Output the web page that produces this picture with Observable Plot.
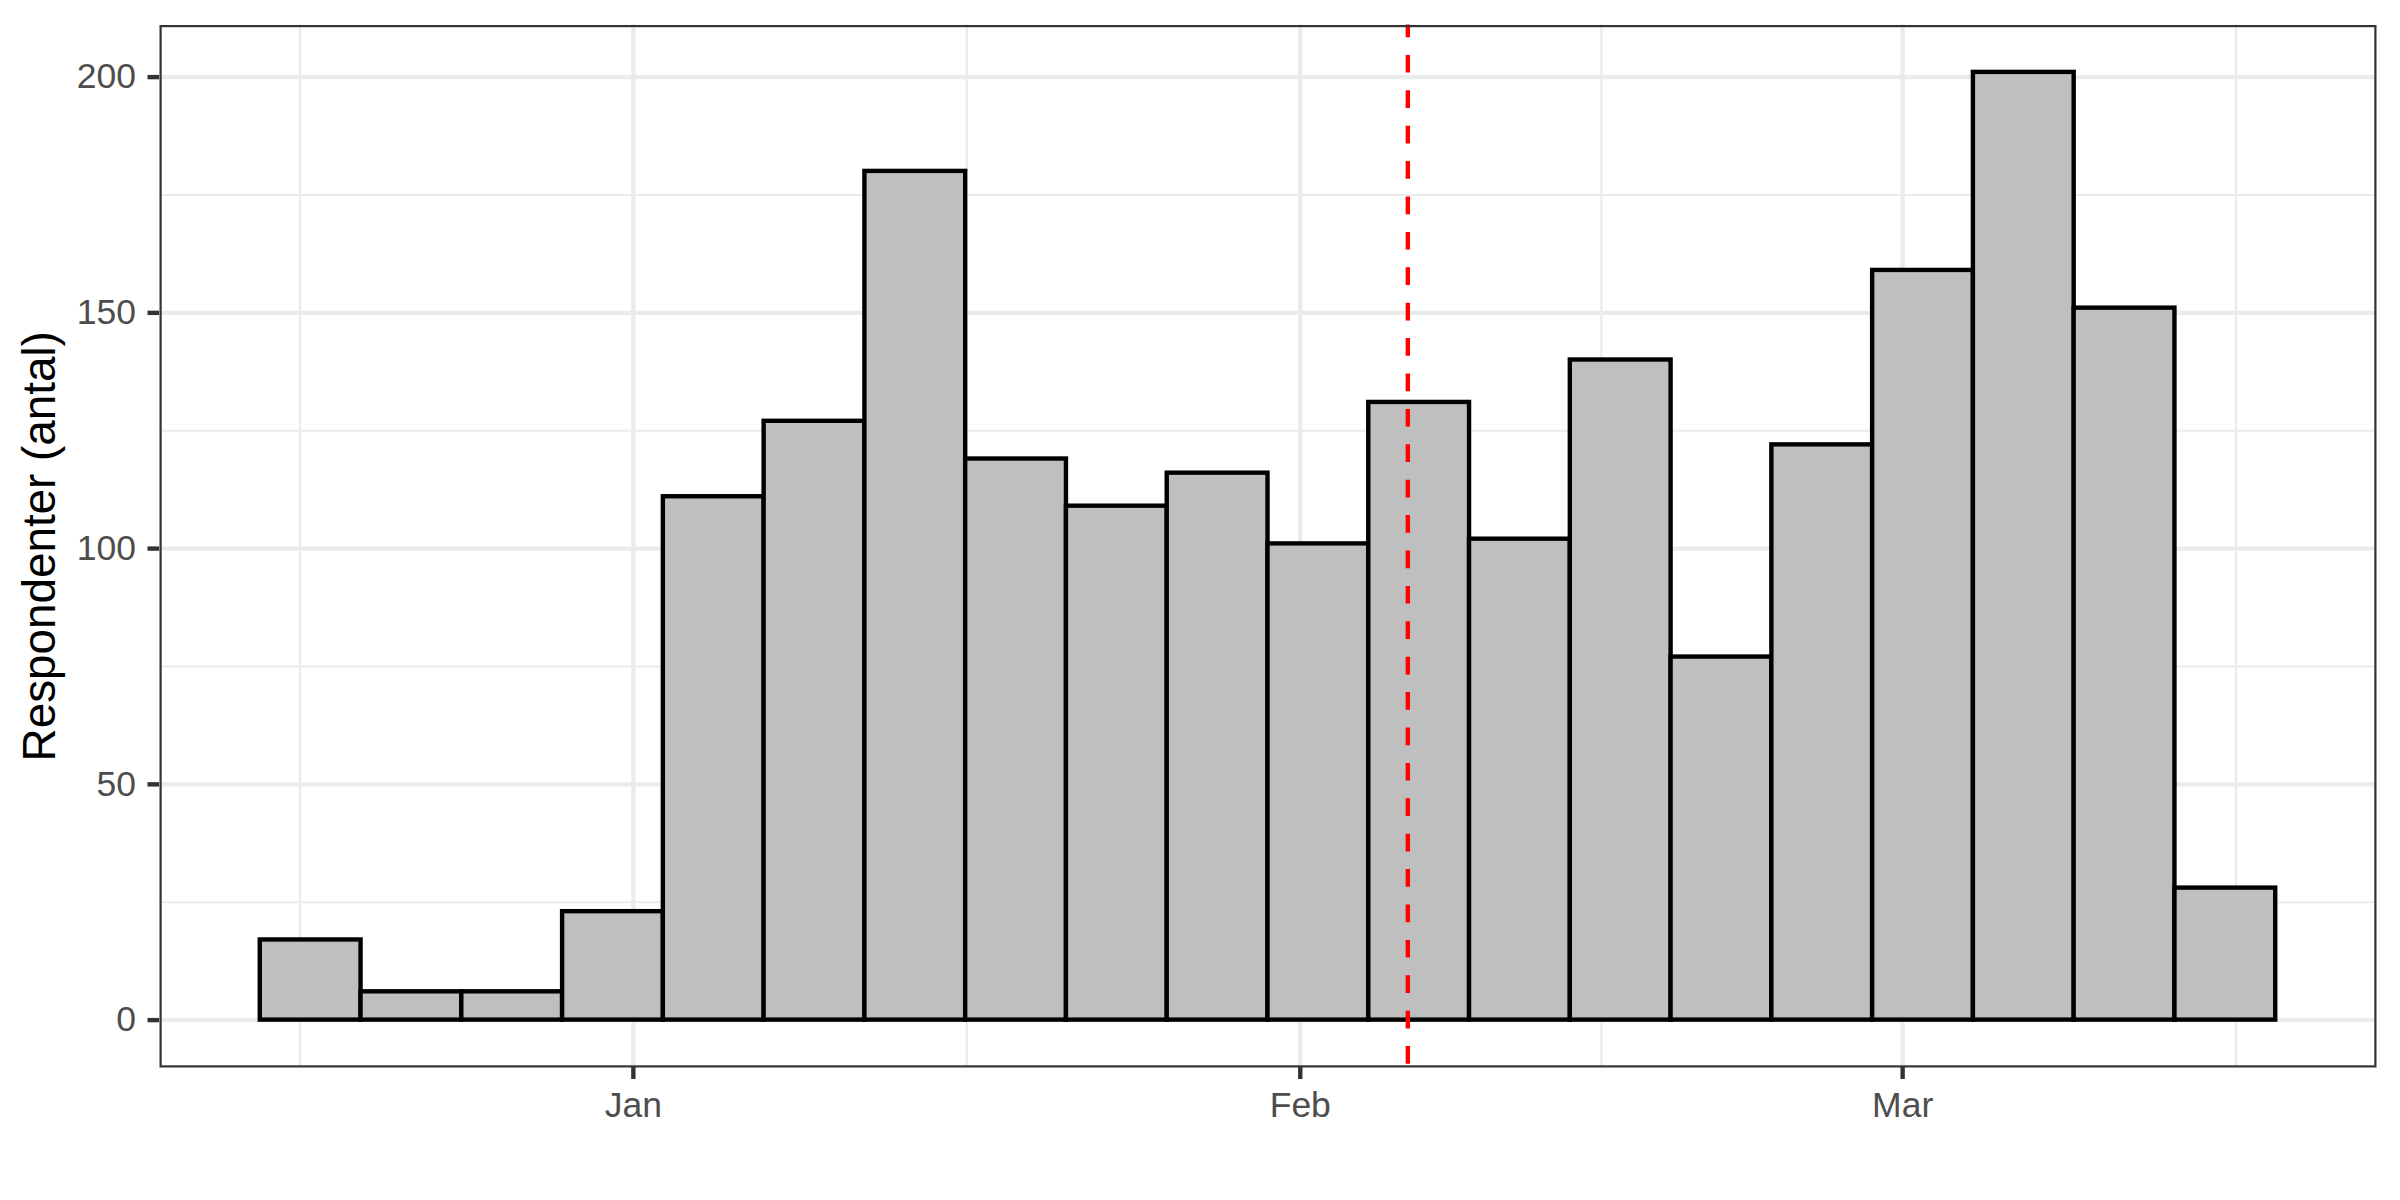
<!DOCTYPE html>
<html>
<head>
<meta charset="utf-8">
<script src="https://cdn.jsdelivr.net/npm/d3@7"></script>
<script src="https://cdn.jsdelivr.net/npm/@observablehq/plot@0.6"></script>
<style>
  html, body { margin: 0; padding: 0; background: #ffffff; }
  #chart { width: 2400px; height: 1200px; }
</style>
</head>
<body>
<div id="chart"></div>
<script>
// ---- Data ----
const firstResponse = "2020-12-17";   // centre of first bin
const lastResponse  = "2021-03-16";   // centre of last bin
const binCounts = [17, 6, 6, 23, 111, 127, 180, 119, 109, 116, 101, 131, 102, 140, 77, 122, 159, 201, 151, 28];
const monthTicks  = ["2021-01-01", "2021-02-01", "2021-03-01"];
const monthLabels = ["Jan", "Feb", "Mar"];
const countTicks  = [0, 50, 100, 150, 200];
const cutoffDate  = "2021-02-06";
const yTitle = "Respondenter (antal)";

// ---- Derived tables ----
const t0 = Date.parse(firstResponse);
const t1 = Date.parse(lastResponse);
const nBins = binCounts.length;
const bw = (t1 - t0) / (nBins - 1);
const bins = binCounts.map((count, i) => ({
  x1: new Date(t0 - bw / 2 + i * bw),
  x2: new Date(t0 + bw / 2 + i * bw),
  count
}));

const xlo = t0 - bw / 2, xhi = t1 + bw / 2;
const xpad = 0.05 * (xhi - xlo);
const xDomain = [new Date(xlo - xpad), new Date(xhi + xpad)];
const ymax = d3.max(binCounts);
const ypad = 0.05 * ymax;
const yDomain = [-ypad, ymax + ypad];

const majorX = monthTicks.map(s => new Date(Date.parse(s)));
const labelByTime = new Map(majorX.map((d, i) => [+d, monthLabels[i]]));
const extMonths = [d3.utcMonth.offset(majorX[0], -1), ...majorX, d3.utcMonth.offset(majorX[majorX.length - 1], 1)];
const minorX = d3.pairs(extMonths, (a, b) => new Date((+a + +b) / 2))
  .filter(d => d >= xDomain[0] && d <= xDomain[1]);
const stepY = countTicks[1] - countTicks[0];
const extY = [countTicks[0] - stepY, ...countTicks, countTicks[countTicks.length - 1] + stepY];
const minorY = d3.pairs(extY, (a, b) => (a + b) / 2)
  .filter(v => v >= yDomain[0] && v <= yDomain[1]);

const gridColor = "#EBEBEB";

const chart = Plot.plot({
  width: 2400,
  height: 1200,
  marginLeft: 159,
  marginRight: 24,
  marginTop: 24.5,
  marginBottom: 133,
  style: { fontFamily: "'Liberation Sans', Arial, Helvetica, sans-serif", background: "#ffffff", overflow: "visible" },
  x: { type: "utc", domain: xDomain },
  y: { domain: yDomain },
  marks: [
    Plot.gridX(minorX, { stroke: gridColor, strokeOpacity: 1, strokeWidth: 2.2 }),
    Plot.gridY(minorY, { stroke: gridColor, strokeOpacity: 1, strokeWidth: 2.2 }),
    Plot.gridX(majorX, { stroke: gridColor, strokeOpacity: 1, strokeWidth: 4.4 }),
    Plot.gridY(countTicks, { stroke: gridColor, strokeOpacity: 1, strokeWidth: 4.4 }),
    Plot.rect(bins, {
      x1: "x1", x2: "x2", y1: () => 0, y2: "count",
      fill: "#BFBFBF", stroke: "#000000", strokeWidth: 4.4, inset: 0
    }),
    Plot.ruleX([new Date(Date.parse(cutoffDate))], {
      stroke: "#FF0000", strokeWidth: 4.4, strokeDasharray: "17.7,17.7", strokeDashoffset: 5
    }),
    Plot.frame({ stroke: "#333333", strokeWidth: 2.2, inset: 1.1 }),
    Plot.axisX(majorX, {
      tickSize: 12, tickPadding: 12, fontSize: 35.5,
      tickFormat: d => labelByTime.get(+d),
      stroke: "#333333", fill: "#4D4D4D", strokeWidth: 4.4, label: null
    }),
    Plot.axisY(countTicks, {
      tickSize: 11.5, tickPadding: 12, fontSize: 35.5,
      tickFormat: d => String(d),
      stroke: "#333333", fill: "#4D4D4D", strokeWidth: 4.4, label: null
    }),
    Plot.text([yTitle], {
      text: d => d, frameAnchor: "left", dx: -118.7, rotate: -90,
      textAnchor: "middle", fontSize: 45.8, fill: "#000000"
    })
  ]
});
document.getElementById("chart").appendChild(chart);
</script>
</body>
</html>
